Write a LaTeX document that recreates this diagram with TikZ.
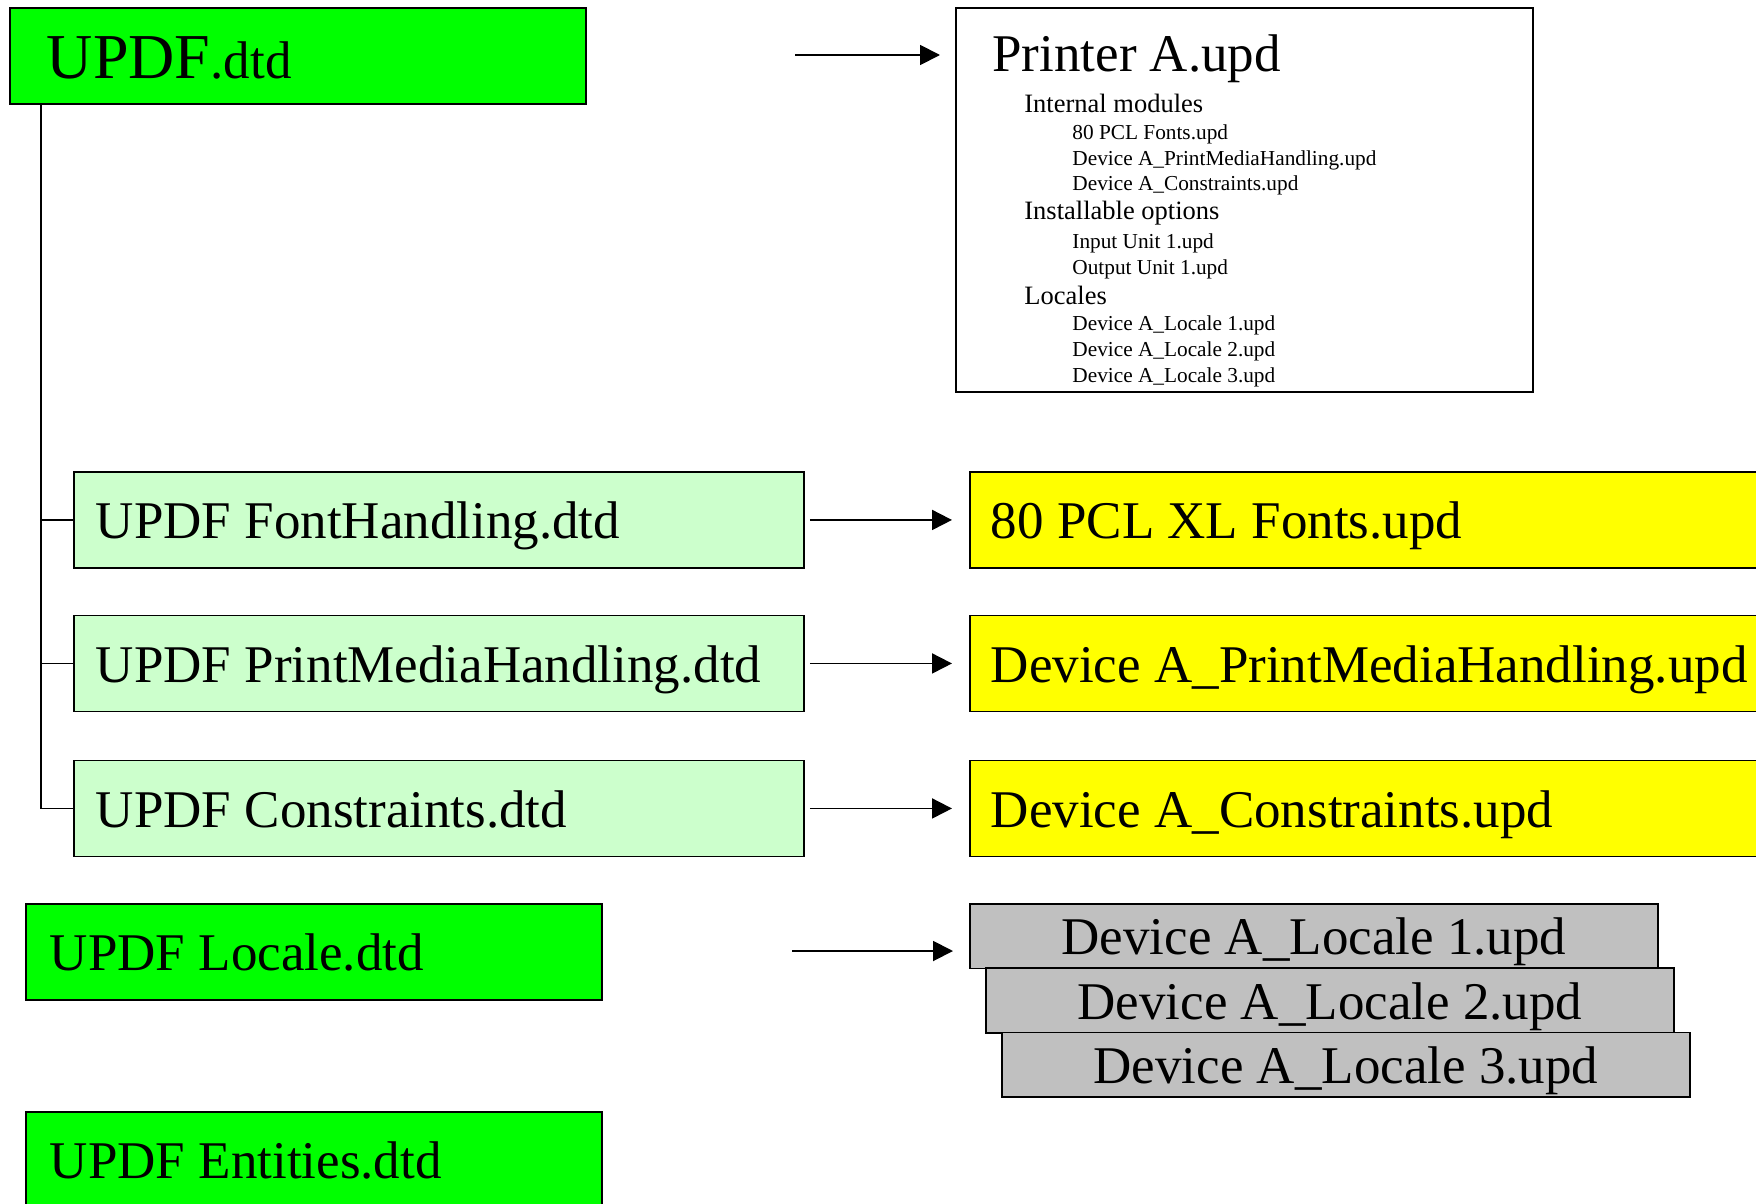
\documentclass[tikz,border=0pt]{standalone}
\usepackage{fontspec}
\setmainfont{Liberation Serif}
\usetikzlibrary{arrows.meta}
\definecolor{brightgreen}{HTML}{00FF00}
\definecolor{palegreen}{HTML}{CCFFCC}
\definecolor{brightyellow}{HTML}{FFFF00}
\definecolor{boxgrey}{HTML}{C0C0C0}
\newcommand{\lbox}[2]{\makebox[#1][l]{#2}}
\tikzset{
  bx/.style={draw, line width=0.95pt, rectangle, anchor=north west, inner ysep=0pt,
    text height=19pt, text depth=0pt,
    font=\fontsize{26.5pt}{30pt}\selectfont},
  greybox/.style={bx, fill=boxgrey, minimum width=344pt, minimum height=32.25pt,
    inner xsep=0pt, text height=18.5pt},
  ptxt/.style={anchor=base west, inner sep=0pt},
  head/.style={ptxt, font=\fontsize{26.5pt}{30pt}\selectfont},
  sect/.style={ptxt, font=\fontsize{13.25pt}{15pt}\selectfont},
  item/.style={ptxt, font=\fontsize{10.65pt}{12pt}\selectfont},
  conn/.style={line width=0.95pt},
  arr/.style={line width=0.95pt, -{Triangle[length=10pt,width=10pt]}}
}
\begin{document}
\begin{tikzpicture}[x=0.5pt,y=-0.5pt]
\useasboundingbox (0,0) rectangle (1756,1204);
\clip (0,0) rectangle (1756,1204);

% top-level dtd
\node[bx, fill=brightgreen, minimum height=48pt, inner xsep=18.5pt, text height=23pt]
  (updf) at (9,7) {\lbox{251pt}{{\fontsize{32pt}{36pt}\selectfont UPDF}.dtd}};

% printer box
\node[draw, line width=0.95pt, rectangle, anchor=north west, minimum width=288.5pt, minimum height=192pt, inner sep=0pt]
  (pbox) at (955,7) {};
\node[head] (pt) at (992,72) {Printer A.upd};
\node[sect] (s1) at (1024,112.7) {Internal modules};
\node[item] (i1) at (1072,139.3) {80 PCL Fonts.upd};
\node[item] (i2) at (1072,165) {Device A\_PrintMediaHandling.upd};
\node[item] (i3) at (1072,190.7) {Device A\_Constraints.upd};
\node[sect] (s2) at (1024,220) {Installable options};
\node[item] (i4) at (1072,248.3) {Input Unit 1.upd};
\node[item] (i5) at (1072,274) {Output Unit 1.upd};
\node[sect] (s3) at (1024,304) {Locales};
\node[item] (i6) at (1072,330.7) {Device A\_Locale 1.upd};
\node[item] (i7) at (1072,356.7) {Device A\_Locale 2.upd};
\node[item] (i8) at (1072,382.7) {Device A\_Locale 3.upd};

% module dtds
\node[bx, fill=palegreen, minimum height=48pt, inner xsep=11pt]
  (fh) at (73,471) {\lbox{343pt}{UPDF FontHandling.dtd}};
\node[bx, fill=palegreen, minimum height=48pt, inner xsep=11pt]
  (pm) at (73,614.5) {\lbox{343pt}{UPDF PrintMediaHandling.dtd}};
\node[bx, fill=palegreen, minimum height=48pt, inner xsep=11pt]
  (co) at (73,759.5) {\lbox{343pt}{UPDF Constraints.dtd}};

% module upds
\node[bx, fill=brightyellow, minimum height=48pt, inner xsep=10.5pt]
  (yf) at (969,471) {\lbox{389pt}{80 PCL XL Fonts.upd}};
\node[bx, fill=brightyellow, minimum height=48pt, inner xsep=10.5pt]
  (yp) at (969,614.5) {\lbox{389pt}{Device A\_PrintMediaHandling.upd}};
\node[bx, fill=brightyellow, minimum height=48pt, inner xsep=10.5pt]
  (yc) at (969,759.5) {\lbox{389pt}{Device A\_Constraints.upd}};

% locale and entities dtds
\node[bx, fill=brightgreen, minimum height=48pt, inner xsep=12pt]
  (loc) at (25,903) {\lbox{264pt}{UPDF Locale.dtd}};
\node[bx, fill=brightgreen, minimum height=48pt, inner xsep=12pt]
  (ent) at (25,1111) {\lbox{264pt}{UPDF Entities.dtd}};

% locale upds
\node[greybox] (g1) at (969,903) {Device A\_Locale 1.upd};
\node[greybox] (g2) at (985,967.3) {Device A\_Locale 2.upd};
\node[greybox] (g3) at (1001,1031.5) {Device A\_Locale 3.upd};

% tree
\coordinate (t0) at ([xshift=16pt]updf.south west);
\draw[conn] (t0) |- (fh.west);
\draw[conn] (t0) |- (pm.west);
\draw[conn] (t0) |- (co.west);

% arrows
\coordinate (a0) at (795,55);
\draw[arr, shorten >=7.5pt] (a0) -- (a0 -| pbox.west);
\draw[arr, shorten <=2.5pt, shorten >=8.5pt] (fh.east) -- (yf.west);
\draw[arr, shorten <=2.5pt, shorten >=8.5pt] (pm.east) -- (yp.west);
\draw[arr, shorten <=2.5pt, shorten >=8.5pt] (co.east) -- (yc.west);
\coordinate (a1) at (792,951);
\draw[arr, shorten >=8pt] (a1) -- (a1 -| g1.west);
\end{tikzpicture}
\end{document}
